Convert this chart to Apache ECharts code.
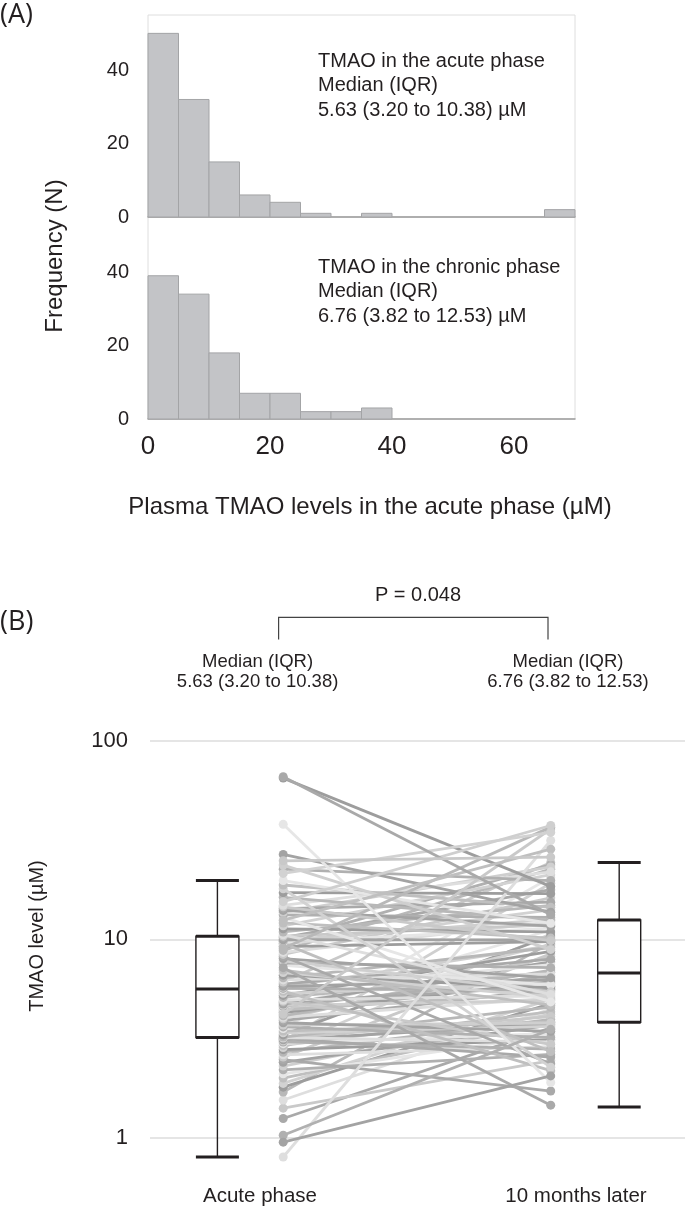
<!DOCTYPE html>
<html>
<head>
<meta charset="utf-8">
<script src="https://cdn.jsdelivr.net/npm/echarts@6/dist/echarts.min.js"></script>
<style>
html,body{margin:0;padding:0;background:#ffffff;}
#chart{width:685px;height:1211px;}
</style>
</head>
<body>
<div id="chart"></div>
<script>
// ---------------- DATA ----------------
// Histogram bins (start of each 5 µM bin)
const binStarts = [0, 5, 10, 15, 20, 25, 30, 35, 40, 45, 50, 55, 60, 65];
const acuteCounts = [50, 32, 15, 6, 4, 1, 0, 1, 0, 0, 0, 0, 0, 2];
const chronicCounts = [39, 34, 18, 7, 7, 2, 2, 3, 0, 0, 0, 0, 0, 0];
const histYTicks = [0, 20, 40];
const histXTicks = [0, 20, 40, 60];

// Paired TMAO values (acute phase -> 10 months later), µM
const acuteValues = [
  1.25, 1.41, 1.55, 1.70, 1.80, 1.88, 2.00, 2.10, 2.20, 2.30,
  2.40, 2.48, 2.55, 2.62, 2.70, 2.78, 2.85, 2.92, 2.98, 3.04,
  3.08, 3.12, 3.16, 3.18, 3.20, 3.22, 3.30, 3.38, 3.45, 3.55,
  3.62, 3.70, 3.80, 3.90, 3.98, 4.05, 4.12, 4.28, 4.35, 4.42,
  4.50, 4.58, 4.65, 4.72, 4.80, 4.88, 4.95, 5.10, 5.22, 5.35,
  5.48, 5.60, 5.66, 5.75, 5.80, 5.95, 6.10, 6.25, 6.40, 6.60,
  6.80, 7.00, 7.40, 7.60, 7.80, 8.00, 8.20, 8.40, 8.60, 8.80,
  9.20, 9.40, 9.55, 9.70, 9.80, 9.90, 9.96, 10.20, 10.38, 10.55,
  10.90, 11.30, 11.70, 12.10, 12.90, 13.30, 13.70, 14.00, 14.30, 14.60,
  14.85, 16.3, 17.2, 18.0, 18.8, 19.8, 22.6, 23.7, 26.8,
  7.20, 4.20, 0.80, 9.00, 65.0, 21.5, 12.5, 38.0, 1.03, 15.5, 0.95, 66.0, 24.9
];
const chronicValues = [
  3.58, 2.45, 4.45, 9.60, 4.75, 4.98, 3.82, 3.28, 2.63, 4.20,
  3.70, 1.72, 8.45, 2.88, 3.95, 3.12, 10.65, 4.32, 3.36, 2.80,
  19.2, 3.75, 2.55, 4.08, 3.04, 4.56, 10.40, 3.64, 3.84, 20.5,
  3.20, 3.79, 3.44, 5.60, 8.20, 5.05, 7.00, 6.12, 9.45, 5.36,
  11.15, 6.55, 4.92, 7.70, 5.80, 2.96, 5.20, 6.82, 8.70, 6.00,
  2.18, 7.45, 5.52, 9.30, 6.25, 7.95, 24.4, 6.70, 9.10, 5.70,
  5.12, 4.66, 5.90, 7.20, 5.44, 6.40, 2.36, 16.2, 12.25, 22.6,
  9.75, 14.10, 2.72, 11.40, 23.8, 12.60, 9.95, 17.8, 11.85, 5.28,
  14.85, 10.90, 21.2, 10.15, 4.84, 12.90, 23.2, 11.65, 15.4, 9.85,
  21.9, 12.45, 17.0, 2.27, 14.50, 12.05, 19.8, 8.90, 13.70,
  1.46, 36.0, 31.5, 36.8, 18.5, 34.6, 28.5, 1.90, 3.52, 37.5, 2.05, 13.3, 26.0
];

// Box plot statistics [whisker low, Q1, median, Q3, whisker high]
const acuteBox = [0.80, 3.20, 5.63, 10.38, 19.8];
const chronicBox = [1.43, 3.82, 6.76, 12.53, 24.4];
const logTicks = [1, 10, 100];

const groupLabels = ['Acute phase', '10 months later'];
const medianTexts = ['Median (IQR)\n5.63 (3.20 to 10.38)', 'Median (IQR)\n6.76 (3.82 to 12.53)'];
const histNotes = [
  'TMAO in the acute phase\nMedian (IQR)\n5.63 (3.20 to 10.38) µM',
  'TMAO in the chronic phase\nMedian (IQR)\n6.76 (3.82 to 12.53) µM'
];
const pValueText = 'P = 0.048';

// ---------------- STYLE / LAYOUT ----------------
const FONT = "'Liberation Sans', Arial, Helvetica, sans-serif";
const TEXT = '#231f20';
const BIN_WIDTH = 5;
const X_BOX_ACUTE = 1.26, X_DOT_ACUTE = 2.49, X_DOT_CHRONIC = 7.49, X_BOX_CHRONIC = 8.77;
const LINE_GRAYS = ['#a9a9a9', '#c9c9c9', '#dedede', '#b8b8b8', '#9d9d9d', '#d2d2d2',
                    '#bfbfbf', '#e6e6e6', '#b0b0b0', '#cfcfcf', '#a3a3a3'];

function histItem(params, api) {
  const x0 = api.value(0), c = api.value(1);
  if (!c) return null;
  const p0 = api.coord([x0, 0]);
  const p1 = api.coord([x0 + BIN_WIDTH, c]);
  return {
    type: 'rect',
    shape: { x: p0[0], y: p1[1], width: p1[0] - p0[0], height: p0[1] - p1[1] },
    style: { fill: '#c3c4c7', stroke: '#a3a4a6', lineWidth: 1 }
  };
}

function boxItem(params, api) {
  const x = api.value(0);
  const ys = [1, 2, 3, 4, 5].map(i => api.coord([x, api.value(i)])[1]);
  const cx = api.coord([x, 1])[0];
  const hw = 21.5;
  const dark = '#231f20';
  const thin = { stroke: dark, lineWidth: 1.4 };
  const thick = { stroke: dark, lineWidth: 3 };
  const hline = (y, st) => ({ type: 'line', shape: { x1: cx - hw, y1: y, x2: cx + hw, y2: y }, style: st });
  return {
    type: 'group',
    children: [
      { type: 'line', shape: { x1: cx, y1: ys[4], x2: cx, y2: ys[3] }, style: thin },
      { type: 'line', shape: { x1: cx, y1: ys[1], x2: cx, y2: ys[0] }, style: thin },
      { type: 'rect', shape: { x: cx - hw, y: ys[3], width: hw * 2, height: ys[1] - ys[3] }, style: { fill: '#ffffff', stroke: dark, lineWidth: 1.4 } },
      hline(ys[3], thick), hline(ys[2], thick), hline(ys[1], thick),
      hline(ys[0], thick), hline(ys[4], thick)
    ]
  };
}

function pairItem(params, api) {
  const a = api.value(0), c = api.value(1);
  const p1 = api.coord([X_DOT_ACUTE, a]);
  const p2 = api.coord([X_DOT_CHRONIC, c]);
  const col = LINE_GRAYS[params.dataIndex % LINE_GRAYS.length];
  return {
    type: 'group',
    children: [
      { type: 'line', shape: { x1: p1[0], y1: p1[1], x2: p2[0], y2: p2[1] }, style: { stroke: col, lineWidth: 2.8 } },
      { type: 'circle', shape: { cx: p1[0], cy: p1[1], r: 4.5 }, style: { fill: col } },
      { type: 'circle', shape: { cx: p2[0], cy: p2[1], r: 4.5 }, style: { fill: col } }
    ]
  };
}

const histGridBase = { left: 148, width: 427, height: 202, show: true, borderColor: '#dedede', borderWidth: 1, outerBoundsMode: 'none' };

const histYAxis = (gi) => ({
  gridIndex: gi, type: 'value', min: 0, max: 55, interval: 20,
  axisLine: { show: false }, axisTick: { show: false }, splitLine: { show: false },
  axisLabel: { fontSize: 20, color: TEXT, fontFamily: FONT, margin: 19, showMaxLabel: false, padding: [7, 0, 0, 0],
               formatter: v => (histYTicks.indexOf(v) >= 0 ? String(v) : '') }
});
const histXAxis = (gi, showLabels) => ({
  gridIndex: gi, type: 'value', min: 0, max: 70, interval: 20,
  axisLine: { show: true, lineStyle: { color: '#9c9c9c', width: 1.5 } },
  axisTick: { show: false }, splitLine: { show: false },
  axisLabel: { show: showLabels, fontSize: 26, color: TEXT, fontFamily: FONT, margin: 15, showMaxLabel: false,
               formatter: v => (histXTicks.indexOf(v) >= 0 ? String(v) : '') }
});

const chart = echarts.init(document.getElementById('chart'), null, { renderer: 'canvas' });

const option = {
  animation: false,
  backgroundColor: '#ffffff',
  grid: [
    Object.assign({ top: 15 }, histGridBase),
    Object.assign({ top: 217 }, histGridBase),
    { left: 150, top: 741, width: 535, height: 427.5, outerBoundsMode: 'none' }
  ],
  xAxis: [
    histXAxis(0, false),
    histXAxis(1, true),
    { gridIndex: 2, type: 'value', min: 0, max: 10, show: false }
  ],
  yAxis: [
    histYAxis(0),
    histYAxis(1),
    {
      gridIndex: 2, type: 'log', logBase: 10, min: 0.7, max: 100,
      axisLine: { show: false }, axisTick: { show: false },
      splitLine: { show: true, showMinLine: false, lineStyle: { color: '#dcdcdc', width: 1.5 } },
      axisLabel: { fontSize: 22, color: TEXT, fontFamily: FONT, margin: 22, showMinLabel: false,
                   formatter: v => (logTicks.indexOf(Math.round(v * 1000) / 1000) >= 0 ? String(Math.round(v)) : '') }
    }
  ],
  series: [
    { type: 'custom', name: 'Acute histogram', xAxisIndex: 0, yAxisIndex: 0, renderItem: histItem,
      data: binStarts.map((b, i) => [b, acuteCounts[i]]) },
    { type: 'custom', name: 'Chronic histogram', xAxisIndex: 1, yAxisIndex: 1, renderItem: histItem,
      data: binStarts.map((b, i) => [b, chronicCounts[i]]) },
    { type: 'custom', name: 'Paired', xAxisIndex: 2, yAxisIndex: 2, renderItem: pairItem,
      data: acuteValues.map((a, i) => [a, chronicValues[i]]) },
    { type: 'custom', name: 'Box', xAxisIndex: 2, yAxisIndex: 2, renderItem: boxItem,
      encode: { x: 0, y: [1, 2, 3, 4, 5] },
      data: [[X_BOX_ACUTE].concat(acuteBox), [X_BOX_CHRONIC].concat(chronicBox)] }
  ],
  graphic: [
    { type: 'text', x: 0, y: 15, style: { text: '(A)', fontSize: 27, fontFamily: "'Open Sans', 'Noto Sans', sans-serif", fill: TEXT, align: 'left', verticalAlign: 'middle' } },
    { type: 'text', x: 0, y: 622, style: { text: '(B)', fontSize: 27, fontFamily: "'Open Sans', 'Noto Sans', sans-serif", fill: TEXT, align: 'left', verticalAlign: 'middle' } },
    { type: 'text', x: 55, y: 256, rotation: Math.PI / 2, style: { text: 'Frequency (N)', fontSize: 24, fontFamily: FONT, fill: TEXT, align: 'center', verticalAlign: 'middle' } },
    { type: 'text', x: 318, y: 49.5, style: { text: histNotes[0], fontSize: 20, lineHeight: 24.3, fontFamily: FONT, fill: TEXT, align: 'left', verticalAlign: 'top' } },
    { type: 'text', x: 318, y: 255, style: { text: histNotes[1], fontSize: 20, lineHeight: 24.5, fontFamily: FONT, fill: TEXT, align: 'left', verticalAlign: 'top' } },
    { type: 'text', x: 370, y: 507, style: { text: 'Plasma TMAO levels in the acute phase (µM)', fontSize: 24, fontFamily: FONT, fill: TEXT, align: 'center', verticalAlign: 'middle' } },
    { type: 'text', x: 418, y: 595, style: { text: pValueText, fontSize: 20, fontFamily: FONT, fill: TEXT, align: 'center', verticalAlign: 'middle' } },
    { type: 'polyline', shape: { points: [[278.6, 639.5], [278.6, 617.3], [548, 617.3], [548, 639.5]] }, style: { stroke: '#444444', lineWidth: 1.2, fill: null } },
    { type: 'text', x: 257.6, y: 671.7, style: { text: medianTexts[0], fontSize: 18.5, lineHeight: 20, fontFamily: FONT, fill: TEXT, align: 'center', verticalAlign: 'middle' } },
    { type: 'text', x: 568, y: 671.7, style: { text: medianTexts[1], fontSize: 18.5, lineHeight: 20, fontFamily: FONT, fill: TEXT, align: 'center', verticalAlign: 'middle' } },
    { type: 'text', x: 37, y: 936, rotation: Math.PI / 2, style: { text: 'TMAO level (µM)', fontSize: 20, fontFamily: FONT, fill: TEXT, align: 'center', verticalAlign: 'middle' } },
    { type: 'text', x: 260, y: 1196, style: { text: groupLabels[0], fontSize: 20.5, fontFamily: FONT, fill: TEXT, align: 'center', verticalAlign: 'middle' } },
    { type: 'text', x: 576, y: 1196, style: { text: groupLabels[1], fontSize: 20.5, fontFamily: FONT, fill: TEXT, align: 'center', verticalAlign: 'middle' } }
  ]
};
chart.setOption(option);
</script>
</body>
</html>
